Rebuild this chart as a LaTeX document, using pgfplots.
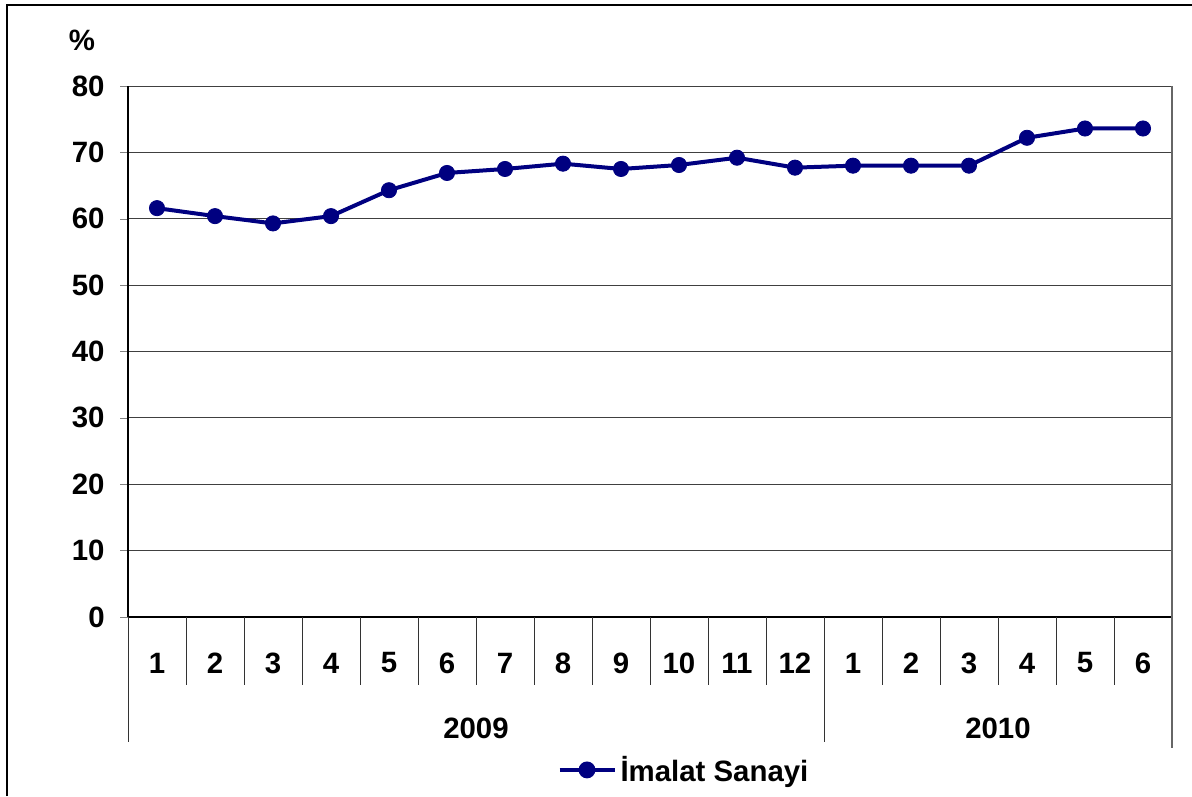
\documentclass[border=0pt]{standalone}
\usepackage{pgfplots}
\pgfplotsset{compat=1.18}
\usepackage{fontspec}
\setmainfont{Liberation Sans}
\definecolor{navy}{RGB}{0,0,128}
\newcommand{\lbl}{\fontsize{14.7}{17}\selectfont\bfseries}
\begin{document}
\begin{tikzpicture}
\begin{axis}[
  scale only axis, width=522pt, height=265.5pt,
  xmin=0.5, xmax=18.5, ymin=0, ymax=80,
  axis lines=left, axis line style={-, black, line width=0.6pt},
  ytick={0,10,...,80}, tick align=outside, major tick length=4pt,
  xtick={1,...,18}, xticklabels={1,2,3,4,5,6,7,8,9,10,11,12,1,2,3,4,5,6},
  x tick style={draw=none},
  xticklabel style={anchor=center, yshift=-19pt, inner sep=0pt},
  yticklabel style={inner sep=0pt, xshift=-7.5pt},
  tick label style={font=\lbl},
  /pgf/number format/assume math mode=true,
  ymajorgrids, major grid style={black!75, line width=0.5pt},
  clip=false,
  legend style={at={(rel axis cs:0.5335,-0.288)}, anchor=center, draw=none,
    font=\lbl, fill=none},
  legend image code/.code={
    \draw[navy, line width=2pt] (0pt,0pt) -- (27.5pt,0pt);
    \fill[navy] (13.75pt,0pt) circle (3.2pt);},
]
\addplot[navy, line width=2pt, mark=*, mark size=3.8pt,
  mark options={solid, fill=navy, draw=navy, line width=0.4pt}]
  coordinates {(1,61.6)(2,60.4)(3,59.3)(4,60.4)(5,64.3)(6,66.9)(7,67.5)
  (8,68.3)(9,67.5)(10,68.1)(11,69.2)(12,67.7)(13,68.0)(14,68.0)(15,68.0)
  (16,72.2)(17,73.6)(18,73.6)};
\addlegendentry{İmalat Sanayi}
% category separators below the axis
\pgfplotsinvokeforeach{1.5,2.5,3.5,4.5,5.5,6.5,7.5,8.5,9.5,10.5,11.5,13.5,14.5,15.5,16.5,17.5}{
  \draw[black!80, line width=0.5pt] (axis cs:#1,0) -- (axis cs:#1,-10.24);}
\draw[black!80, line width=0.5pt] (axis cs:0.5,0) -- (axis cs:0.5,-18.8);
\draw[black!80, line width=0.5pt] (axis cs:12.5,0) -- (axis cs:12.5,-18.8);
\draw[black!60, line width=0.6pt] (axis cs:18.5,80) -- (axis cs:18.5,-19.7);
\node[font=\lbl] at (axis cs:6.5,-16.72) {2009};
\node[font=\lbl] at (axis cs:15.5,-16.72) {2010};
\node[font=\lbl] at (axis cs:-0.293,86.93) {\%};
% outer frame (left and top only)
\draw[black, line width=1pt] (axis cs:-1.58,-26.97) -- (axis cs:-1.58,92.2) -- (axis cs:18.845,92.2);
\coordinate (bbA) at (axis cs:-1.707,-26.97);
\coordinate (bbB) at (axis cs:18.845,92.96);
\end{axis}
\pgfresetboundingbox
\useasboundingbox (bbA) rectangle (bbB);
\end{tikzpicture}
\end{document}
